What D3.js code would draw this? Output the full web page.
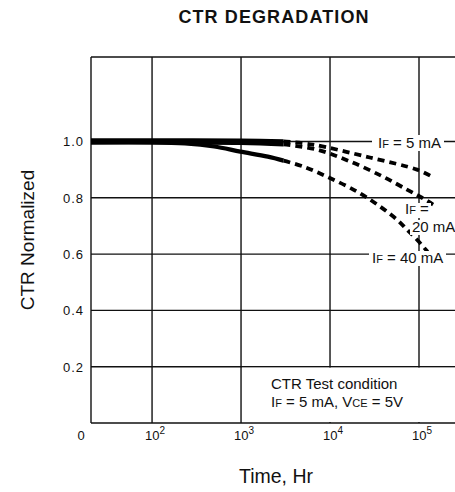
<!DOCTYPE html>
<html>
<head>
    <title>CTR Degradation</title>
    <script src="https://d3js.org/d3.v7.min.js"></script>
    <style>
        body { margin: 0; background: #fff; }
        svg { font-family: "Liberation Sans", Arial, sans-serif; }
        .grid line { stroke: #111; stroke-width: 1.4; }
        .lbl { fill: #111; }
    </style>
</head>
<body>
    <div class="chart"></div>
    <script>
        // Data (time in hours, CTR normalized)
        const solidEnd = 3000;
        const hours5 = [20.6, 100, 1000, 3000, 6400, 28000, 95000, 140000];
        const ctr5 = [1.004, 1.004, 1.003, 1.0, 0.989, 0.943, 0.90, 0.875];
        const hours20 = [20.6, 100, 1000, 3000, 7150, 16800, 39400, 73300, 108000, 144000];
        const ctr20 = [0.997, 0.997, 0.995, 0.99, 0.971, 0.929, 0.875, 0.829, 0.80, 0.776];
        const hours40 = [20.6, 100, 235, 500, 980, 2000, 3000, 4980, 9250, 20100, 36500, 56600, 73300, 95000, 125000];
        const ctr40 = [0.997, 0.997, 0.993, 0.982, 0.964, 0.946, 0.932, 0.911, 0.875, 0.822, 0.769, 0.722, 0.687, 0.651, 0.608];

        const yTicks = [0.2, 0.4, 0.6, 0.8, 1.0];
        const xTicks = [100, 1000, 10000, 100000];
        const xExp = ["2", "3", "4", "5"];

        const W = 455, H = 492;
        const plotLeft = 91, plotBottom = 423, plotTop = 57;

        const svg = d3.select(".chart")
            .append("svg")
            .attr("width", W)
            .attr("height", H);

        // Scales
        const x = d3.scaleLog().domain([20.6, 100000]).range([plotLeft, 419]);
        const y = d3.scaleLinear().domain([0, 1.3]).range([plotBottom, plotTop]);

        // Grid
        const grid = svg.append("g").attr("class", "grid");
        grid.selectAll(".v")
            .data(xTicks)
            .enter().append("line")
            .attr("x1", d => x(d)).attr("x2", d => x(d))
            .attr("y1", plotTop).attr("y2", plotBottom);
        grid.selectAll(".h")
            .data(yTicks)
            .enter().append("line")
            .attr("x1", plotLeft).attr("x2", W)
            .attr("y1", d => y(d)).attr("y2", d => y(d));

        // white box for the test condition note (hides grid behind it)
        svg.append("rect")
            .attr("x", x(1000) + 1).attr("y", y(0.2) + 1)
            .attr("width", W - x(1000)).attr("height", plotBottom - y(0.2) - 2)
            .attr("fill", "#fff");

        // Frame
        grid.append("line").attr("x1", plotLeft).attr("x2", W).attr("y1", plotTop).attr("y2", plotTop);
        grid.append("line").attr("x1", plotLeft).attr("x2", W).attr("y1", plotBottom).attr("y2", plotBottom);
        grid.append("line").attr("x1", plotLeft).attr("x2", plotLeft).attr("y1", plotTop).attr("y2", plotBottom);

        // Curves
        const line = d3.line().x(d => x(d[0])).y(d => y(d[1])).curve(d3.curveCatmullRom.alpha(0.5));
        const series = [[hours5, ctr5], [hours20, ctr20], [hours40, ctr40]];
        series.forEach(([hs, vs]) => {
            const pts = hs.map((h, i) => [h, vs[i]]);
            const solid = pts.filter(p => p[0] <= solidEnd);
            const dashed = pts.filter(p => p[0] >= solidEnd);
            svg.append("path")
                .attr("d", line(solid))
                .attr("fill", "none")
                .attr("stroke", "#000")
                .attr("stroke-width", 4.2);
            svg.append("path")
                .attr("d", line(dashed))
                .attr("fill", "none")
                .attr("stroke", "#000")
                .attr("stroke-width", 3.8)
                .attr("stroke-dasharray", "7,5");
        });

        // Curve labels with white backgrounds
        function curveLabel(parts, xPos, yPos, bg) {
            if (bg) {
                svg.append("rect")
                    .attr("x", bg[0]).attr("y", bg[1])
                    .attr("width", bg[2]).attr("height", bg[3])
                    .attr("fill", "#fff");
            }
            const t = svg.append("text").attr("class", "lbl")
                .attr("x", xPos).attr("y", yPos)
                .attr("font-size", 15);
            parts.forEach(p => {
                t.append("tspan").attr("font-size", p[1]).text(p[0]);
            });
        }
        curveLabel([["I", 15], ["F", 11], [" = 5 mA", 15]], 378, 148, [372, 135, 72, 16]);
        curveLabel([["I", 15], ["F", 11], [" =", 15]], 405, 214, [403, 203, 28, 15]);
        curveLabel([["20 mA", 15]], 412, 232, [410, 220, 45, 15]);
        curveLabel([["I", 15], ["F", 11], [" = 40 mA", 15]], 372, 263, [369, 251, 77, 15]);

        // Test condition note
        svg.append("text").attr("class", "lbl")
            .attr("x", 271).attr("y", 389).attr("font-size", 15)
            .text("CTR Test condition");
        const cond = svg.append("text").attr("class", "lbl")
            .attr("x", 271).attr("y", 407).attr("font-size", 15);
        cond.append("tspan").text("I");
        cond.append("tspan").attr("font-size", 11).text("F");
        cond.append("tspan").text(" = 5 mA, V");
        cond.append("tspan").attr("font-size", 11).text("CE");
        cond.append("tspan").text(" = 5V");

        // Y tick labels
        svg.selectAll(".ytick")
            .data(yTicks)
            .enter().append("text")
            .attr("class", "lbl")
            .attr("x", 84)
            .attr("y", d => y(d) + 5)
            .attr("text-anchor", "end")
            .attr("font-size", 13)
            .attr("letter-spacing", 1)
            .text(d => d.toFixed(1));

        // X tick labels
        svg.append("text").attr("class", "lbl")
            .attr("x", 81).attr("y", 440)
            .attr("text-anchor", "middle").attr("font-size", 13)
            .text("0");
        const xl = svg.selectAll(".xtick")
            .data(xTicks)
            .enter().append("text")
            .attr("class", "lbl")
            .attr("x", d => x(d) - 7)
            .attr("y", 440)
            .attr("font-size", 13);
        xl.append("tspan").text("10");
        xl.append("tspan").attr("dy", -6).attr("font-size", 10).text((d, i) => xExp[i]);

        // Titles
        svg.append("text").attr("class", "lbl")
            .attr("x", 274).attr("y", 23)
            .attr("text-anchor", "middle")
            .attr("font-size", 18).attr("font-weight", "bold")
            .attr("letter-spacing", 1.1)
            .text("CTR DEGRADATION");
        svg.append("text").attr("class", "lbl")
            .attr("x", 276).attr("y", 483)
            .attr("text-anchor", "middle").attr("font-size", 19.5)
            .text("Time, Hr");
        svg.append("text").attr("class", "lbl")
            .attr("transform", `translate(34, 240) rotate(-90)`)
            .attr("text-anchor", "middle").attr("font-size", 19)
            .text("CTR Normalized");
    </script>
</body>
</html>
